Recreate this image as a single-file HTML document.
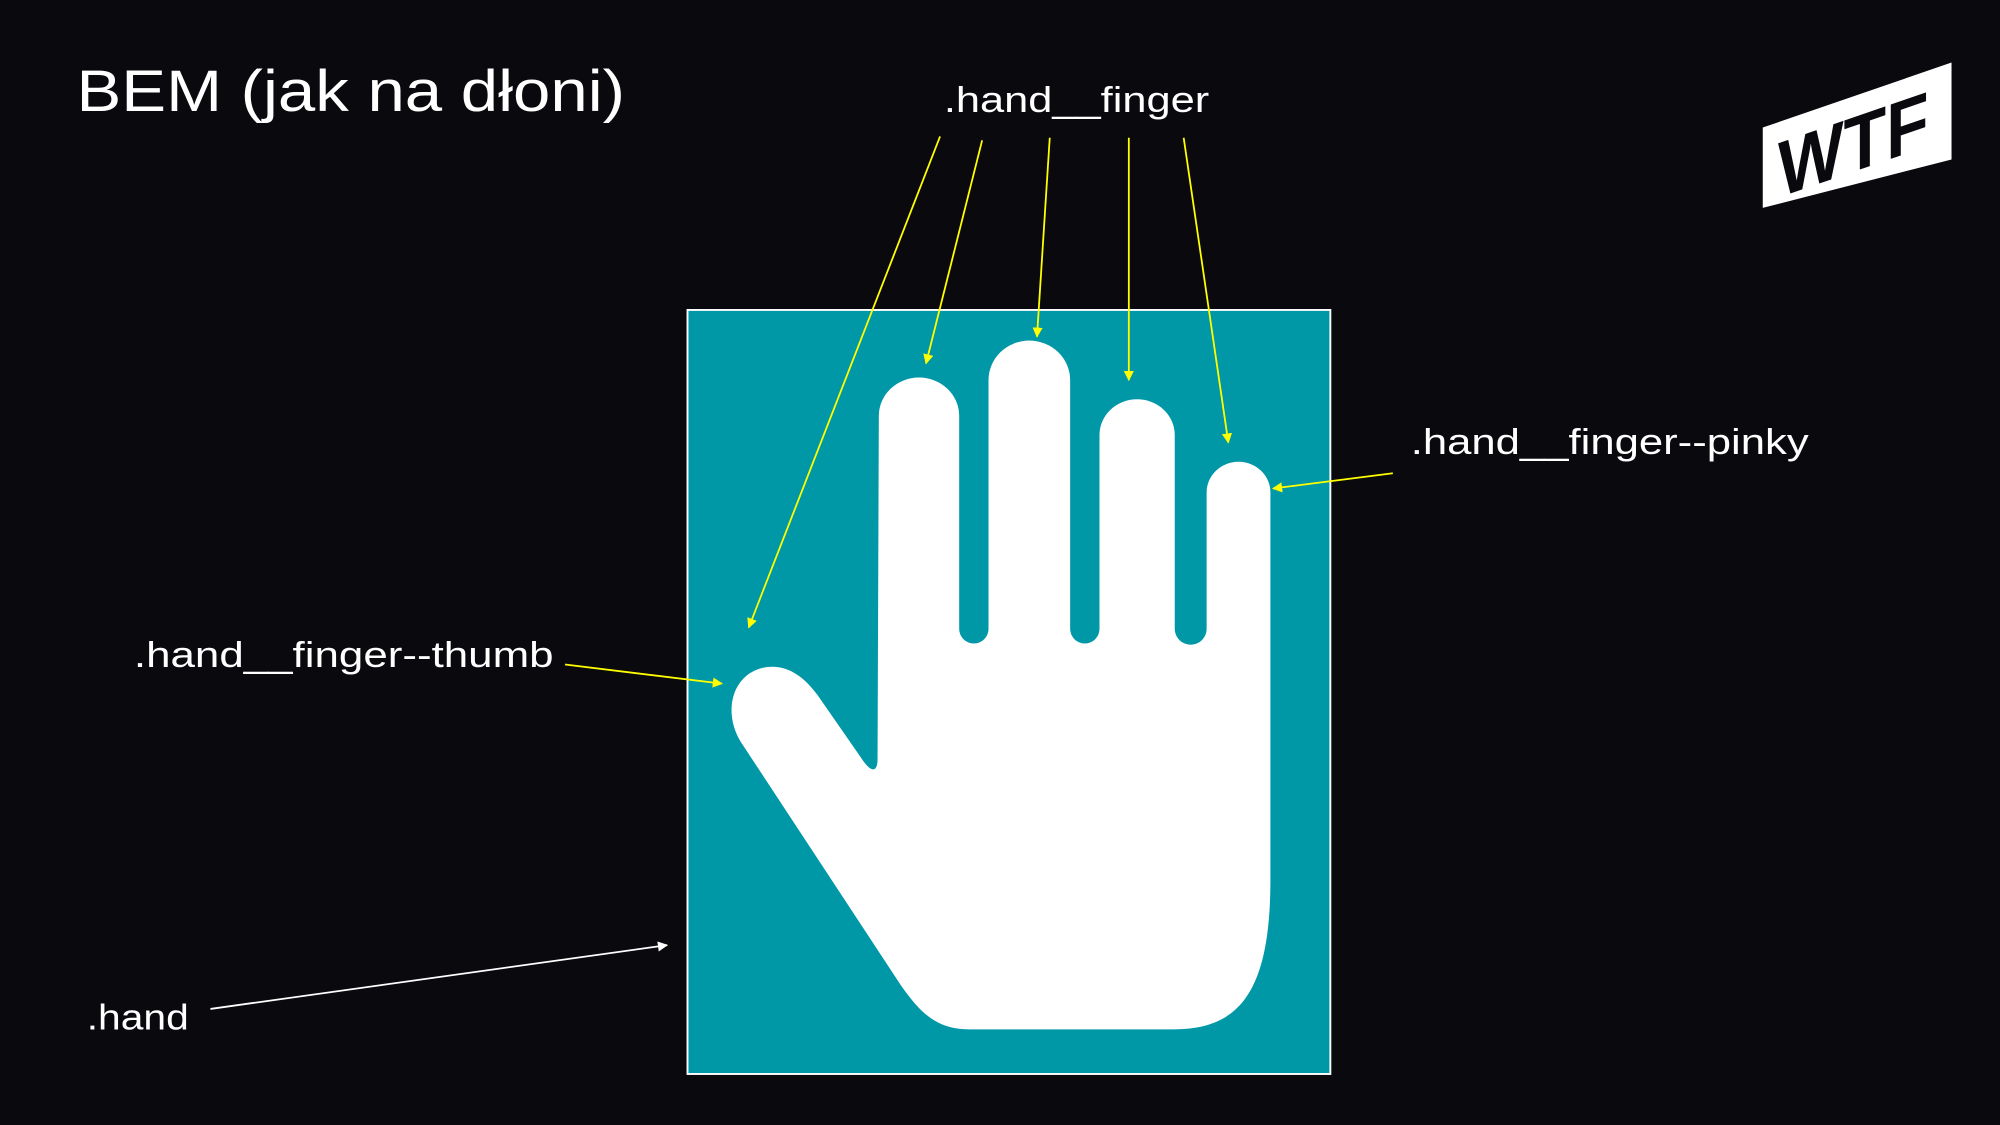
<!DOCTYPE html>
<html><head><meta charset="utf-8">
<style>
html,body{margin:0;padding:0;background:#0a090e;}
svg{display:block;}
text{font-family:"Liberation Sans",sans-serif;fill:#fff;}
</style></head>
<body>
<svg width="2000" height="1125" viewBox="0 0 1568 882" xmlns="http://www.w3.org/2000/svg">
<defs>
<marker id="ay" viewBox="0 0 10 10" refX="9" refY="5" markerWidth="8" markerHeight="8" orient="auto" markerUnits="userSpaceOnUse"><path d="M0 0 L10 5 L0 10 Z" fill="#ffff00"/></marker>
<marker id="aw" viewBox="0 0 10 10" refX="9" refY="5" markerWidth="8" markerHeight="8" orient="auto" markerUnits="userSpaceOnUse"><path d="M0 0 L10 5 L0 10 Z" fill="#ffffff"/></marker>
</defs>
<rect width="1568" height="882" fill="#0a090e"/>
<text x="60" y="87" font-size="46" textLength="430" lengthAdjust="spacingAndGlyphs">BEM (jak na dłoni)</text>

<g>
<polygon points="1382,100 1530,49 1530,125 1382,163" fill="#fff"/>
<text x="1394" y="153" font-size="62" font-weight="900" transform="skewY(-19) translate(0,482)" style="fill:#0a090e" textLength="118" lengthAdjust="spacingAndGlyphs">WTF</text>
</g>

<rect x="539" y="243" width="504" height="599" fill="#0097a7" stroke="#fff" stroke-width="1.5"/>
<path fill="#fff" d="M689 326 A31.5 30 0 0 1 752 326 L752 493 A11.5 11.5 0 0 0 775 493 L775 298 A32 31 0 0 1 839 298 L839 493 A11.5 11.5 0 0 0 862 493 L862 341 A29.5 28 0 0 1 921 341 L921 493 A12.5 12.5 0 0 0 946 493 L946 386 A25 24 0 0 1 996 386 L996 690 C996 780 970 807 920 807 L760 807 C735 807 722 795 706 772 L581 582 C566 558 574 527 601 523 C617 521 630 530 641 545 L675 594 C682 605 688 607 688 595 Z"/>

<g stroke="#ffff00" stroke-width="1.4" fill="none">
<line x1="737" y1="107" x2="587" y2="492" marker-end="url(#ay)"/>
<line x1="770" y1="110" x2="726" y2="285" marker-end="url(#ay)"/>
<line x1="823" y1="108" x2="813" y2="264" marker-end="url(#ay)"/>
<line x1="885" y1="108" x2="885" y2="298" marker-end="url(#ay)"/>
<line x1="928" y1="108" x2="963" y2="347" marker-end="url(#ay)"/>
<line x1="1092" y1="371" x2="998" y2="383" marker-end="url(#ay)"/>
<line x1="443" y1="521" x2="566" y2="536" marker-end="url(#ay)"/>
</g>
<line x1="165" y1="791" x2="523" y2="741" stroke="#fff" stroke-width="1.4" marker-end="url(#aw)"/>

<text x="740" y="88" font-size="28" textLength="208" lengthAdjust="spacingAndGlyphs">.hand__finger</text>
<text x="1106" y="356" font-size="28" textLength="312" lengthAdjust="spacingAndGlyphs">.hand__finger--pinky</text>
<text x="105" y="523" font-size="28" textLength="329" lengthAdjust="spacingAndGlyphs">.hand__finger--thumb</text>
<text x="68" y="807" font-size="28" textLength="80" lengthAdjust="spacingAndGlyphs">.hand</text>
</svg>
</body></html>
